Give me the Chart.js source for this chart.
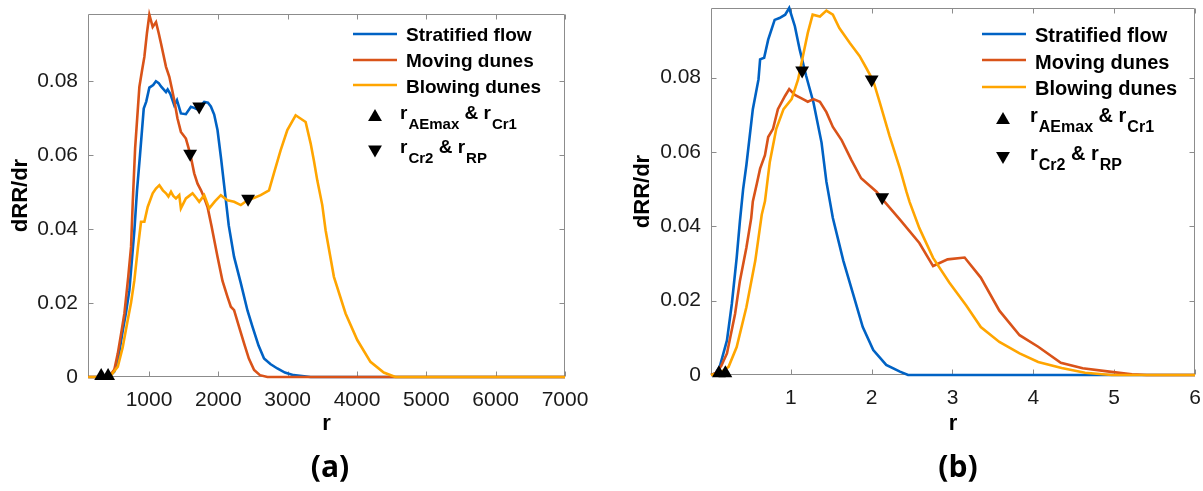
<!DOCTYPE html>
<html><head><meta charset="utf-8">
<script src="https://cdn.jsdelivr.net/npm/chart.js@4"></script>
<style>
html,body{margin:0;padding:0;background:#fff;width:1203px;height:491px;overflow:hidden;position:relative}
canvas{position:absolute;top:0}
#ca{left:0}
#cb{left:620px}
.plabel{position:absolute;top:447px;width:100px;text-align:center;font:700 30px 'Open Sans',sans-serif;line-height:38px;color:#000}
</style></head><body>
<canvas id="ca" width="610" height="491"></canvas>
<canvas id="cb" width="583" height="491"></canvas>
<div class="plabel" style="left:280px">(a)</div>
<div class="plabel" style="left:908px">(b)</div>
<script>
// ---------- names / ticks ----------
const seriesNames = ['Stratified flow', 'Moving dunes', 'Blowing dunes'];
const yTickValues = [0, 0.02, 0.04, 0.06, 0.08];
const aXTicks = [1000, 2000, 3000, 4000, 5000, 6000, 7000];
const bXTicks = [1, 2, 3, 4, 5, 6];

// ---------- panel (a) ----------
const aStratR = [122,420,500,560,621,669,717,789,827,870,924,960,1005,1060,1100,1140,1173,1245,1269,1310,1364,1403,1460,1532,1604,1650,1700,1750,1796,1850,1892,1940,1988,2040,2083,2150,2227,2324,2420,2492,2580,2659,2750,2851,2960,3086,3331,7000];
const aStratV = [0,0,0.0015,0.0055,0.0125,0.0175,0.0235,0.0397,0.0505,0.060,0.0726,0.0745,0.0783,0.0790,0.0800,0.0795,0.0786,0.0771,0.0778,0.0765,0.0735,0.0749,0.0713,0.0711,0.0731,0.0728,0.0724,0.0735,0.0744,0.0742,0.0732,0.0710,0.0668,0.0590,0.0520,0.0410,0.0325,0.0254,0.0180,0.0136,0.0085,0.0050,0.0035,0.0023,0.0012,0.0005,0,0];
const aMoveR = [122,420,500,550,600,645,700,741,765,800,861,900,933,970,1005,1053,1101,1140,1173,1210,1245,1293,1330,1364,1410,1460,1532,1570,1604,1652,1700,1750,1796,1844,1900,1988,2060,2132,2180,2227,2300,2371,2440,2516,2600,2708,7000];
const aMoveV = [0,0,0.002,0.0064,0.012,0.0172,0.027,0.0352,0.047,0.062,0.0785,0.083,0.0866,0.093,0.098,0.0947,0.096,0.093,0.0902,0.087,0.0839,0.0812,0.078,0.0749,0.070,0.0663,0.0645,0.062,0.0595,0.0551,0.0523,0.0505,0.0485,0.046,0.041,0.0325,0.026,0.0217,0.019,0.0181,0.0135,0.0091,0.005,0.0019,0.0005,0,0];
const aBlowR = [122,400,453,550,620,693,740,789,840,885,933,981,1053,1100,1149,1200,1245,1280,1317,1350,1389,1436,1460,1532,1580,1628,1680,1724,1796,1868,1950,2036,2132,2227,2324,2420,2520,2611,2731,2800,2899,2995,3115,3259,3331,3378,3427,3499,3547,3667,3835,4004,4194,4386,4554,7000];
const aBlowV = [0,0,0.0005,0.0028,0.008,0.0154,0.020,0.0262,0.035,0.042,0.042,0.046,0.0497,0.051,0.0519,0.0505,0.0497,0.0488,0.0501,0.049,0.0483,0.0492,0.0456,0.0483,0.049,0.0497,0.0485,0.0474,0.0492,0.0456,0.0475,0.0492,0.0478,0.0474,0.0465,0.0478,0.0485,0.0492,0.0505,0.055,0.0614,0.0668,0.0708,0.069,0.0632,0.0586,0.0532,0.0465,0.0397,0.0271,0.0172,0.010,0.0041,0.0012,0,0];
const aUpR = [310, 410];
const aUpV = [0.0003, 0.0003];
const aDownR = [1593, 1724, 2429];
const aDownV = [0.0604, 0.0732, 0.0482];

// ---------- panel (b) ----------
const bStratR = [0.0125,0.07,0.12,0.21,0.27,0.33,0.37,0.41,0.45,0.53,0.60,0.62,0.67,0.72,0.80,0.86,0.93,0.98,1.05,1.11,1.19,1.28,1.38,1.44,1.52,1.65,1.77,1.89,2.02,2.18,2.35,2.45,6];
const bStratV = [0,0.0005,0.0022,0.0093,0.0191,0.0315,0.0413,0.050,0.0564,0.0715,0.0795,0.0849,0.0853,0.0902,0.0955,0.096,0.0969,0.0987,0.0938,0.0875,0.0804,0.0733,0.0625,0.052,0.0422,0.0307,0.0218,0.0129,0.0067,0.0027,0.0009,0,0];
const bMoveR = [0.0125,0.07,0.14,0.21,0.31,0.37,0.45,0.51,0.53,0.58,0.62,0.68,0.72,0.78,0.84,0.93,0.98,1.05,1.15,1.21,1.28,1.36,1.44,1.52,1.63,1.75,1.87,2.06,2.14,2.35,2.59,2.76,2.94,3.15,3.35,3.58,3.83,4.06,4.34,4.61,4.94,5.22,5.4,6];
const bMoveV = [0,0.0005,0.0025,0.0058,0.0164,0.0253,0.0342,0.0422,0.0467,0.0515,0.0555,0.0591,0.064,0.0662,0.0715,0.0751,0.0769,0.0753,0.0742,0.0735,0.0742,0.0735,0.0707,0.0667,0.0631,0.0578,0.0529,0.0493,0.0471,0.0418,0.0355,0.0293,0.0311,0.0316,0.0262,0.0173,0.0107,0.0076,0.0033,0.0018,0.0009,0.0002,0,0];
const bBlowR = [0.0125,0.12,0.23,0.33,0.45,0.56,0.64,0.68,0.74,0.82,0.91,1.01,1.09,1.15,1.21,1.27,1.36,1.44,1.52,1.60,1.73,1.85,1.93,2.02,2.10,2.22,2.35,2.43,2.47,2.59,2.76,2.96,3.17,3.35,3.58,3.83,4.06,4.35,4.64,4.97,6];
const bBlowV = [0,0.0005,0.0022,0.0075,0.0182,0.0307,0.0431,0.0467,0.0573,0.0662,0.0715,0.0742,0.0795,0.0858,0.092,0.0969,0.0964,0.098,0.0969,0.0933,0.0893,0.0858,0.0827,0.0791,0.0733,0.0644,0.0555,0.0493,0.0465,0.0395,0.0315,0.0249,0.0187,0.0129,0.0089,0.0058,0.0035,0.0019,0.0006,0,0];
const bUpR = [0.11, 0.19];
const bUpV = [0.0005, 0.0005];
const bDownR = [1.14, 2.0, 2.13];
const bDownV = [0.0819, 0.0795, 0.0478];

// ---------- styles ----------
const colors = ['#0062C4', '#D95319', '#FFA500'];
const FAM = '"Liberation Sans", Arial, sans-serif';
const pts = (rs, vs) => rs.map((r, i) => ({x: r, y: vs[i]}));

function tri(ctx, x, y, r, down) {
  let rad = down ? Math.PI : 0;
  ctx.beginPath();
  for (let k = 0; k < 3; k++) {
    const px = x + Math.sin(rad) * r, py = y - Math.cos(rad) * r;
    if (k === 0) ctx.moveTo(px, py); else ctx.lineTo(px, py);
    rad += 2 * Math.PI / 3;
  }
  ctx.closePath();
  ctx.fill();
}

const boxTicks = {
  id: 'boxTicks',
  beforeDatasetsDraw(chart) {
    const {ctx, chartArea: a, scales: {x, y}} = chart;
    const L = Math.round(a.left) + 0.5, R = Math.round(a.right) - 0.5;
    const T = Math.round(a.top) + 0.5, B = Math.round(a.bottom) - 0.5;
    ctx.save();
    ctx.strokeStyle = '#8c8c8c';
    ctx.lineWidth = 1;
    ctx.beginPath();
    ctx.rect(L, T, R - L, B - T);
    x.ticks.forEach(t => {
      const px = Math.round(x.getPixelForValue(t.value)) + 0.5;
      ctx.moveTo(px, B); ctx.lineTo(px, B - 5);
      ctx.moveTo(px, T); ctx.lineTo(px, T + 5);
    });
    y.ticks.forEach(t => {
      const py = Math.round(y.getPixelForValue(t.value)) + 0.5;
      ctx.moveTo(L, py); ctx.lineTo(L + 5, py);
      ctx.moveTo(R, py); ctx.lineTo(R - 5, py);
    });
    ctx.stroke();
    ctx.restore();
  }
};

const miniLegend = {
  id: 'miniLegend',
  afterDraw(chart, args, o) {
    if (!o || !o.lx0) return;
    const ctx = chart.ctx;
    ctx.save();
    seriesNames.forEach((name, i) => {
      ctx.strokeStyle = colors[i];
      ctx.lineWidth = 2.6;
      ctx.beginPath();
      ctx.moveTo(o.lx0, o.ly[i]); ctx.lineTo(o.lx1, o.ly[i]);
      ctx.stroke();
      ctx.fillStyle = '#000';
      ctx.font = `bold ${o.fs}px ${FAM}`;
      ctx.textBaseline = 'middle';
      ctx.textAlign = 'left';
      ctx.fillText(name, o.tx, o.ty[i]);
    });
    const rows = [
      {down: false, parts: [['r', 0], ['AEmax', 1], [' & r', 0], ['Cr1', 1]]},
      {down: true,  parts: [['r', 0], ['Cr2', 1], [' & r', 0], ['RP', 1]]}
    ];
    rows.forEach((row, i) => {
      ctx.fillStyle = '#000';
      tri(ctx, o.mx, o.my[i], 8, row.down);
      let x = o.rx;
      ctx.textBaseline = 'alphabetic';
      row.parts.forEach(([t, sub]) => {
        ctx.font = `bold ${sub ? o.sfs : o.fs}px ${FAM}`;
        ctx.fillText(t, x + (sub ? 1 : 0), sub ? o.base[i] + o.sdy : o.base[i]);
        x += ctx.measureText(t).width + (sub ? 1 : 0);
      });
    });
    ctx.restore();
  }
};

function makeChart(id, c) {
  const lineDs = (i, data) => ({
    label: seriesNames[i], data, borderColor: colors[i], backgroundColor: colors[i],
    borderWidth: 2.6, pointRadius: 0, tension: 0, fill: false, clip: false
  });
  return new Chart(document.getElementById(id), {
    type: 'line',
    data: {
      datasets: [
        {label: 'up', data: c.up, showLine: false, pointStyle: 'triangle', pointRadius: 8,
         pointBackgroundColor: '#000', pointBorderColor: '#000', pointBorderWidth: 0, clip: false},
        {label: 'down', data: c.down, showLine: false, pointStyle: 'triangle', pointRotation: 180, pointRadius: 8,
         pointBackgroundColor: '#000', pointBorderColor: '#000', pointBorderWidth: 0, clip: false},
        lineDs(2, c.blow),
        lineDs(1, c.move),
        lineDs(0, c.strat)
      ]
    },
    options: {
      responsive: false, animation: false, devicePixelRatio: 1,
      layout: {padding: {top: c.padTop, right: c.padRight, bottom: 40, left: 0}},
      plugins: {legend: {display: false}, tooltip: {enabled: false}, miniLegend: c.legend},
      scales: {
        x: {
          type: 'linear', min: c.xMin, max: c.xMax,
          afterBuildTicks: s => { s.ticks = c.xTicks.map(v => ({value: v})); },
          afterFit: s => { s.height = c.xH; s.paddingLeft = 0; s.paddingRight = 0; },
          grid: {display: false, drawTicks: false}, border: {display: false},
          ticks: {font: {family: FAM, size: 21}, color: '#1a1a1a', padding: 11, maxRotation: 0, autoSkip: false,
                  callback: v => String(v)},
          title: {display: true, text: 'r', color: '#000', font: {family: FAM, size: 22, weight: 'bold'},
                  padding: {top: 0, bottom: 14}}
        },
        y: {
          type: 'linear', min: 0, max: c.yMax,
          afterBuildTicks: s => { s.ticks = yTickValues.map(v => ({value: v})); },
          afterFit: s => { s.width = c.yW; s.paddingTop = 0; s.paddingBottom = 0; },
          grid: {display: false, drawTicks: false}, border: {display: false},
          ticks: {font: {family: FAM, size: 21}, color: '#1a1a1a', padding: 10, autoSkip: false,
                  callback: v => String(v)},
          title: {display: true, text: 'dRR/dr', color: '#000', font: {family: FAM, size: 22, weight: 'bold'},
                  padding: {top: c.yTitlePad, bottom: 0}}
        }
      }
    },
    plugins: [boxTicks, miniLegend]
  });
}

makeChart('ca', {
  strat: pts(aStratR, aStratV), move: pts(aMoveR, aMoveV), blow: pts(aBlowR, aBlowV),
  up: pts(aUpR, aUpV), down: pts(aDownR, aDownV),
  xMin: 120, xMax: 7000, yMax: 0.0982, xTicks: aXTicks,
  padTop: 14, padRight: 45, xH: 74, yW: 88, yTitlePad: 8,
  legend: {lx0: 353, lx1: 397, ly: [34, 60, 85], tx: 406, ty: [36, 61.5, 87.5], fs: 19,
           mx: 375, my: [117, 149.5], rx: 400, base: [119, 153], sdy: 9.5, sfs: 15}
});

makeChart('cb', {
  strat: pts(bStratR, bStratV), move: pts(bMoveR, bMoveV), blow: pts(bBlowR, bBlowV),
  up: pts(bUpR, bUpV), down: pts(bDownR, bDownV),
  xMin: 0.0125, xMax: 6, yMax: 0.0987, xTicks: bXTicks,
  padTop: 5, padRight: 7, xH: 76, yW: 91, yTitlePad: 10,
  legend: {lx0: 362, lx1: 406, ly: [34, 60, 87], tx: 415, ty: [36, 63, 89.5], fs: 20,
           mx: 383, my: [120, 156], rx: 410, base: [122, 160], sdy: 10, sfs: 16}
});
</script>
</body></html>
